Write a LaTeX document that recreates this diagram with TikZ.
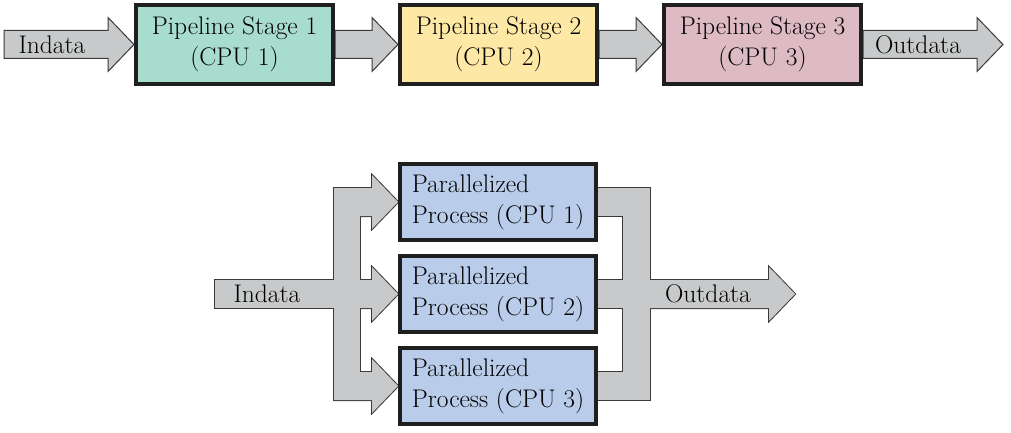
\documentclass[tikz,border=0pt]{standalone}
\usetikzlibrary{positioning,calc,backgrounds}
\definecolor{stageA}{HTML}{A8DCCF}
\definecolor{stageB}{HTML}{FEE8A5}
\definecolor{stageC}{HTML}{DEBAC4}
\definecolor{parblue}{HTML}{B9CDEA}
\definecolor{flowgray}{HTML}{C8C9CA}
\definecolor{flowline}{HTML}{3A3A3A}
\tikzset{
  stagebox/.style={draw=black!88,line width=4pt,minimum width=197pt,minimum height=79pt,
              inner sep=0pt,align=center,font=\fontsize{25.5}{31}\selectfont},
  parbox/.style={draw=black!88,line width=4pt,minimum width=196pt,minimum height=76pt,
              inner sep=0pt,align=left,fill=parblue,
              font=\fontsize{25.5}{31}\selectfont},
  fat/.style={fill=flowgray,draw=flowline,line width=1pt},
  fatrim/.style={draw=flowline,line width=2pt},
  fatfill/.style={fill=flowgray},
  lbl/.style={inner sep=0pt,font=\fontsize{25.5}{31}\selectfont},
}
% block arrow from #1 to tip #2 (same height)
\newcommand{\fatpath}[2]{($(#1)+(0,14)$) -- ($(#2)+(-26,14)$) -- ($(#2)+(-26,27)$) -- (#2)
  -- ($(#2)+(-26,-27)$) -- ($(#2)+(-26,-14)$) -- ($(#1)+(0,-14)$) -- cycle}
% split and merge pieces of the parallel flow
\newcommand{\parflow}[1]{
  \path[#1] ($(inB)+(0,-14)$) rectangle ($(split)+(26,14)$);
  \path[#1] ($(split |- p1.west)+(0,14)$) rectangle ($(split |- p3.west)+(26,-14)$);
  \foreach \i in {1,2,3}{
    \path[#1] \fatpath{split |- p\i.west}{p\i.west};
    \path[#1] ($(p\i.east)+(0,-14)$) rectangle ($(merge |- p\i.east)+(27,14)$);
  }
  \path[#1] ($(merge |- p1.east)+(0,14)$) rectangle ($(merge |- p3.east)+(27,-14)$);
  \path[#1] \fatpath{merge}{outB};
}
\begin{document}
\begin{tikzpicture}[x=1pt,y=1pt]
\useasboundingbox (0,0) rectangle (1011,432);
% pipeline stages
\node[stagebox,fill=stageA] (b1) at (234.5,387.5) {Pipeline Stage 1\\(CPU 1)};
\node[stagebox,fill=stageB,right=63pt of b1] (b2) {Pipeline Stage 2\\(CPU 2)};
\node[stagebox,fill=stageC,right=63pt of b2] (b3) {Pipeline Stage 3\\(CPU 3)};
\coordinate (inT) at (4,387.5);
\coordinate (outT) at (1003,387.5);
% parallel processes
\node[parbox] (p1) at (498,230) {Parallelized\\Process (CPU 1)};
\node[parbox,below=12pt of p1] (p2) {Parallelized\\Process (CPU 2)};
\node[parbox,below=12pt of p2] (p3) {Parallelized\\Process (CPU 3)};
\coordinate (inB) at (215,138);
\coordinate (split) at (334,138);
\coordinate (merge) at (623,138);
\coordinate (outB) at (795,138);
% flows
\begin{scope}[on background layer]
\path[fat] \fatpath{inT}{b1.west};
\path[fat] \fatpath{b1.east}{b2.west};
\path[fat] \fatpath{b2.east}{b3.west};
\path[fat] \fatpath{b3.east}{outT};
\parflow{fatrim}
\parflow{fatfill}
\end{scope}
% flow labels
\node[lbl] (inTl) at ($(inT)+(48,0)$) {Indata};
\node[lbl] (outTl) at ($(b3.east)+(55,0)$) {Outdata};
\node[lbl] (inBl) at ($(inB)+(52,0)$) {Indata};
\node[lbl] (outBl) at ($(merge)+(85,0)$) {Outdata};
\end{tikzpicture}
\end{document}
